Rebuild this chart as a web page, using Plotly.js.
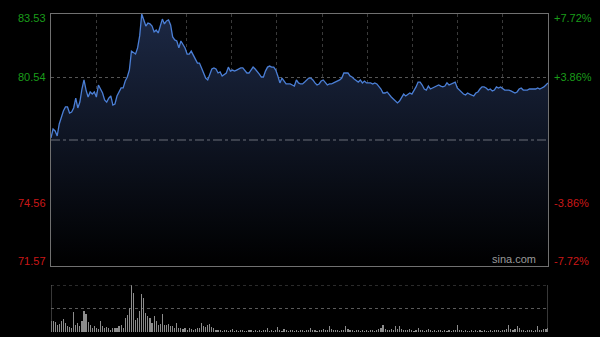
<!DOCTYPE html>
<html>
<head>
<meta charset="utf-8">
<script src="https://cdn.plot.ly/plotly-3.0.1.min.js"></script>
<style>
html,body{margin:0;padding:0;background:#000;}
#chart{width:600px;height:337px;}
</style>
</head>
<body>
<div id="chart"></div>
<script>
// ---- data ----
const prevClose = 77.55;
const priceMin = 71.57;
const priceMax = 83.53;
const leftLabels = ["83.53", "80.54", "74.56", "71.57"];
const leftLabelValues = [83.53, 80.54, 74.56, 71.57];
const rightLabels = ["+7.72%", "+3.86%", "-3.86%", "-7.72%"];
const gridPrices = [80.54, 74.56];

const prices = [
77.65,78.07,77.98,77.74,78.31,78.69,78.93,79.12,79.12,78.83,
78.88,79.07,79.54,79.07,79.35,79.97,80.40,79.92,79.59,79.83,
79.73,79.83,79.59,80.16,79.97,79.78,79.45,79.35,79.54,79.64,
79.21,79.26,79.64,79.83,80.02,80.02,80.35,80.54,80.87,81.77,
81.68,81.63,81.92,82.49,83.53,83.25,82.96,83.10,83.06,82.96,
82.68,82.77,82.63,82.96,83.29,83.06,83.20,83.25,83.01,82.44,
82.30,82.25,81.92,82.25,82.11,81.92,81.63,81.63,81.77,81.54,
81.39,81.20,81.20,80.97,80.68,80.49,80.40,80.63,80.92,80.97,
80.92,80.73,80.78,80.59,80.68,80.73,81.01,80.82,80.87,80.82,
80.87,80.92,80.97,80.97,80.82,80.73,80.73,80.87,81.01,80.92,
80.82,80.68,80.54,80.54,80.82,81.01,81.06,81.01,81.01,80.87,
80.59,80.26,80.49,80.35,80.21,80.21,80.21,80.16,80.11,80.40,
80.26,80.21,80.21,80.30,80.40,80.49,80.49,80.40,80.26,80.16,
80.21,80.35,80.40,80.26,80.16,80.21,80.21,80.26,80.30,80.35,
80.40,80.49,80.73,80.73,80.73,80.59,80.54,80.44,80.35,80.30,
80.40,80.26,80.35,80.26,80.26,80.26,80.21,80.26,80.21,80.11,
79.97,79.78,79.78,79.83,79.69,79.59,79.50,79.40,79.31,79.40,
79.54,79.73,79.64,79.73,79.78,79.73,79.88,80.07,80.30,80.30,
80.16,79.97,79.92,80.11,79.97,80.02,80.07,80.11,80.16,80.11,
80.07,80.11,80.26,80.16,80.21,80.26,80.30,80.02,79.92,79.83,
79.73,79.69,79.78,79.73,79.69,79.64,79.78,79.83,79.97,80.07,
80.07,80.02,79.92,79.97,79.88,79.92,80.07,80.02,80.07,79.97,
79.92,79.92,79.92,79.88,79.83,79.78,79.83,79.97,80.02,79.92,
79.92,79.92,79.97,79.97,79.97,79.97,80.02,79.97,80.02,80.07,
80.16,80.26
];

const volumes = [
24,24,22,14,17,24,28,20,12,10,
8,42,15,19,12,24,45,38,22,14,
9,12,8,6,23,12,9,10,8,5,
8,8,8,12,15,9,30,37,51,100,
82,26,30,45,80,72,40,33,30,20,
35,23,15,17,38,15,14,16,12,12,
8,19,8,8,7,9,5,8,7,5,
6,8,8,20,12,10,15,16,10,8,
5,5,4,3,5,4,3,4,6,3,
4,3,5,4,3,3,4,5,3,4,
3,4,3,5,4,8,3,4,3,4,
10,4,3,6,4,3,5,4,3,4,
3,4,5,3,4,4,8,5,4,3,
4,5,6,4,5,12,6,4,5,4,
3,5,4,12,6,5,4,3,4,5,
3,4,3,4,3,5,4,3,4,6,
8,14,7,5,4,6,5,12,7,12,
6,5,4,5,6,4,3,5,8,5,
4,3,5,7,4,3,4,3,5,4,
3,4,3,4,3,4,5,14,5,4,
3,4,3,3,4,3,4,3,4,3,
4,3,3,4,3,4,5,4,3,4,
5,6,14,7,5,6,12,8,5,4,
3,4,5,4,3,4,12,5,4,6,
6,9
];
const volMax = 100;
const sessionMinutes = 241;
const gridDivisions = 11;

// ---- build ----
const minutes = prices.map((_, i) => i);
const vgrid = [];
for (let k = 1; k < gridDivisions; k++) vgrid.push(k * sessionMinutes / gridDivisions);

const green = '#1a9c1a';
const red = '#cc1818';
const frame = '#707070';
const fontFam = 'Liberation Sans, Arial, sans-serif';

const traces = [
  {
    x: minutes, y: prices, type: 'scatter', mode: 'lines',
    line: {color: '#4b7fd6', width: 1.3},
    fill: 'tozeroy',
    fillgradient: {type: 'vertical', start: priceMin, stop: priceMax,
      colorscale: [[0, 'rgba(0,0,0,1)'], [1, 'rgb(28,40,68)']]},
    xaxis: 'x', yaxis: 'y', hoverinfo: 'none'
  },
  {
    x: minutes, y: volumes, type: 'bar',
    marker: {color: '#8c8c8c', line: {width: 0}},
    width: 0.55,
    xaxis: 'x2', yaxis: 'y2', hoverinfo: 'none'
  }
];

const annotations = [];
leftLabels.forEach((t, i) => {
  const v = leftLabelValues[i];
  const col = v > prevClose ? green : red;
  const shift = i === 0 ? -4 : (i === leftLabels.length - 1 ? 5 : 0);
  annotations.push({text: t, xref: 'paper', x: 0, xanchor: 'right', xshift: -3,
    yref: 'y', y: v, yshift: shift, showarrow: false,
    font: {color: col, size: 11, family: fontFam}});
  annotations.push({text: rightLabels[i], xref: 'paper', x: 1, xanchor: 'left', xshift: 4,
    yref: 'y', y: v, yshift: shift, showarrow: false,
    font: {color: col, size: 11, family: fontFam}});
});
annotations.push({text: 'sina.com', xref: 'paper', x: 1, xanchor: 'right', xshift: -10,
  yref: 'y', y: priceMin, yanchor: 'bottom', yshift: -1, showarrow: false,
  font: {color: '#9a9a9a', size: 11, family: fontFam}});

const shapes = [
  {type: 'line', xref: 'x', yref: 'y', x0: 0, x1: sessionMinutes, y0: prevClose, y1: prevClose,
   line: {color: '#6a6e78', width: 1, dash: 'dashdot'}},
  {type: 'line', xref: 'x2', yref: 'y2', x0: 0, x1: sessionMinutes, y0: volMax, y1: volMax,
   line: {color: '#5a5a5a', width: 1, dash: 'dot'}},
  {type: 'line', xref: 'x2', yref: 'y2', x0: 0, x1: 0, y0: 0, y1: volMax,
   line: {color: frame, width: 1}},
  {type: 'line', xref: 'x2', yref: 'y2', x0: sessionMinutes, x1: sessionMinutes, y0: 0, y1: volMax,
   line: {color: frame, width: 1}}
];

const layout = {
  width: 600, height: 337,
  margin: {l: 51, r: 52, t: 14, b: 5, pad: 0},
  paper_bgcolor: '#000', plot_bgcolor: '#000',
  showlegend: false, bargap: 0,
  xaxis: {domain: [0, 1], range: [0, sessionMinutes], tickvals: vgrid, showticklabels: false,
    showgrid: true, gridcolor: '#3a3a3a', griddash: 'dot', gridwidth: 1,
    showline: true, linecolor: frame, linewidth: 1, mirror: true, zeroline: false, ticks: '',
    fixedrange: true},
  yaxis: {domain: [0.2075, 1], range: [priceMin, priceMax], tickvals: gridPrices, showticklabels: false,
    showgrid: true, gridcolor: '#555', griddash: 'dot', gridwidth: 1,
    showline: true, linecolor: frame, linewidth: 1, mirror: true, zeroline: false, ticks: '',
    fixedrange: true},
  xaxis2: {domain: [0, 1], range: [0, sessionMinutes], anchor: 'y2', showgrid: false,
    showticklabels: false, showline: false, zeroline: false, ticks: '', fixedrange: true},
  yaxis2: {domain: [0, 0.1478], range: [0, volMax], anchor: 'x2', tickvals: [volMax / 2],
    showticklabels: false, showgrid: true, gridcolor: '#5a5a5a', griddash: 'dot',
    showline: false, zeroline: false, ticks: '', fixedrange: true},
  annotations: annotations,
  shapes: shapes
};

Plotly.newPlot('chart', traces, layout, {staticPlot: true, displayModeBar: false});
</script>
</body>
</html>
